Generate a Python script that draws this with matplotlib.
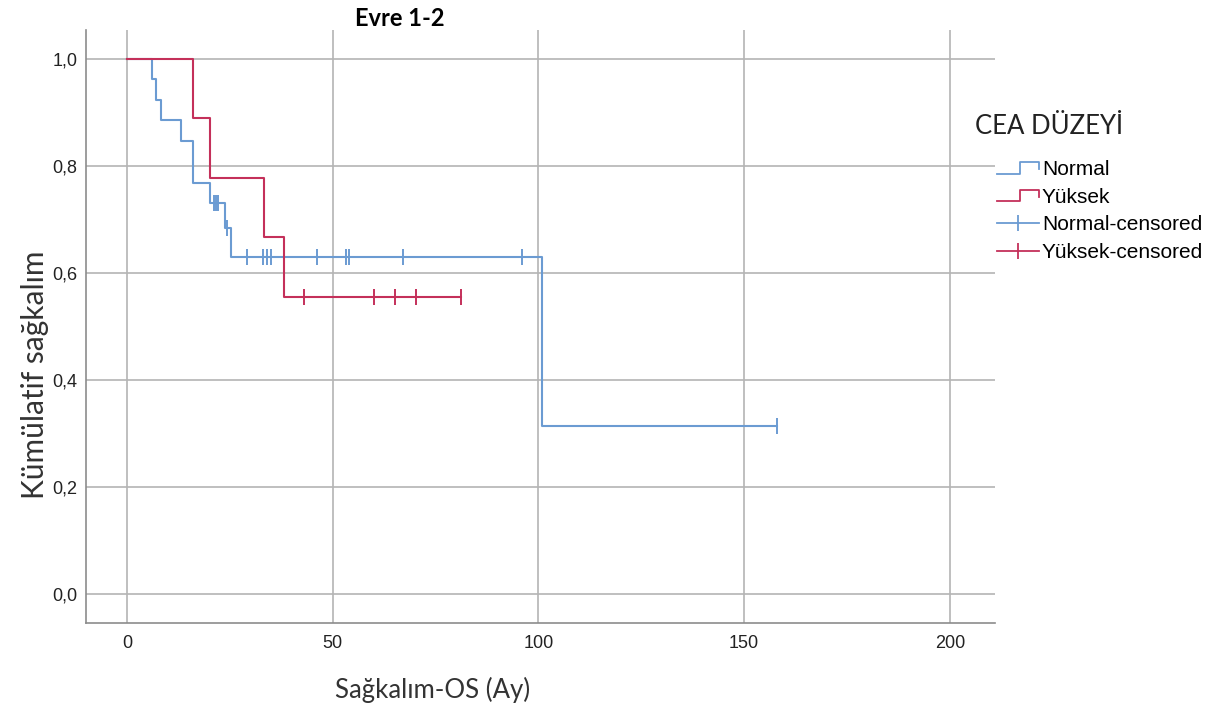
import numpy as np
import matplotlib as mpl
mpl.use('Agg')
import matplotlib.pyplot as plt
from matplotlib import font_manager
from matplotlib.legend_handler import HandlerBase
from matplotlib.lines import Line2D

# Kaplan-Meier basamaklari (ay, kumulatif sagkalim)
normal_zaman = [0, 6.1, 7.0, 8.2, 13.1, 16.1, 20.2, 23.8, 25.2, 100.9, 158.0]
normal_sag = [1.0, 0.962, 0.923, 0.885, 0.846, 0.769, 0.731, 0.684, 0.630, 0.315, 0.315]
normal_sansur = [21.0, 21.6, 22.2, 24.3, 29.1, 33.0, 33.9, 35.0, 46.1, 53.1, 53.9, 67.1, 96.1, 158.0]

yuksek_zaman = [0, 16.1, 20.2, 33.3, 38.1, 81.2]
yuksek_sag = [1.0, 0.889, 0.778, 0.667, 0.556, 0.556]
yuksek_sansur = [43.1, 60.0, 65.1, 70.2, 81.2]

renkler = ['#6b9bd2', '#c4305a']

x_ticks = [0, 50, 100, 150, 200]
y_ticks = [0.0, 0.2, 0.4, 0.6, 0.8, 1.0]
y_etiket = ['0,0', '0,2', '0,4', '0,6', '0,8', '1,0']

mevcut = {f.name for f in font_manager.fontManager.ttflist}
if 'Liberation Sans Narrow' in mevcut:
    DAR = ['Liberation Sans Narrow', 'DejaVu Sans']
    DAR_BOY = 14
else:
    DAR = ['Liberation Sans', 'DejaVu Sans']
    DAR_BOY = 13
YAZI = ['Lato', 'DejaVu Sans']

W, H = 1216, 716


def seviye(zaman, sag, t):
    # sansurlu gozlemin bulundugu basamak duzeyi
    i = np.searchsorted(zaman, t, side='right') - 1
    return sag[i]


class AdimSimgesi(HandlerBase):
    def create_artists(self, legend, orig_handle, xdescent, ydescent,
                       width, height, fontsize, trans):
        x0 = -xdescent
        y0 = -ydescent
        xm = x0 + width * 0.55
        x1 = x0 + width
        xs = [x0, xm, xm, x1, x1]
        ys = [y0 + height * 0.1, y0 + height * 0.1, y0 + height * 0.9,
              y0 + height * 0.9, y0 + height * 0.4]
        ln = Line2D(xs, ys, color=orig_handle.get_color(), lw=1.3, transform=trans)
        return [ln]


fig = plt.figure(figsize=(W / 100, H / 100), dpi=100)
ax = fig.add_axes([86 / W, 1 - 623 / H, (995 - 86) / W, (623 - 30) / H])

ax.set_xlim(-10.0, 211.0)
ax.set_ylim(-0.054, 1.054)
ax.set_xticks(x_ticks)
ax.set_yticks(y_ticks)
ax.set_yticklabels(y_etiket)
ax.grid(True, color='#b4b4b4', lw=1.2)
ax.set_axisbelow(True)
ax.tick_params(length=0, labelsize=DAR_BOY, labelcolor='#222222')
ax.tick_params(axis='y', pad=6)
ax.tick_params(axis='x', pad=9)
for lab in ax.get_xticklabels() + ax.get_yticklabels():
    lab.set_family(DAR)
for s in ['top', 'right']:
    ax.spines[s].set_visible(False)
for s in ['left', 'bottom']:
    ax.spines[s].set_color('#8c8c8c')
    ax.spines[s].set_linewidth(1.2)

egriler = []
for ad, renk, zaman, sag in [('Normal', renkler[0], normal_zaman, normal_sag),
                             ('Yüksek', renkler[1], yuksek_zaman, yuksek_sag)]:
    ln, = ax.step(zaman, sag, where='post', color=renk, lw=1.5, label=ad)
    egriler.append(ln)

for ad, renk, zaman, sag, ss in [('Normal', renkler[0], normal_zaman, normal_sag, normal_sansur),
                                 ('Yüksek', renkler[1], yuksek_zaman, yuksek_sag, yuksek_sansur)]:
    yy = [seviye(zaman, sag, t) for t in ss]
    ax.plot(ss, yy, ls='none', marker='|', ms=11, mew=1.4, color=renk,
            label=ad + '-censored')

fig.text(400 / W, 1 - 19 / H, 'Evre 1-2', ha='center', va='center',
         fontsize=17, fontweight='bold', family=YAZI, color='black')
fig.text(35 / W, 1 - 375 / H, 'Kümülatif sağkalım', rotation=90, ha='center',
         va='center', fontsize=21.5, family=YAZI, color='#333333')
fig.text(433 / W, 1 - 690 / H, 'Sağkalım-OS (Ay)', ha='center', va='center',
         fontsize=18.5, family=YAZI, color='#333333')
fig.text(975 / W, 1 - 126 / H, 'CEA DÜZEYİ', ha='left', va='center',
         fontsize=18.5, family=YAZI, color='#222222')

leg_handles = egriler + [Line2D([], [], color=renkler[0], lw=1.3, marker='|', ms=11, mew=1.3),
                         Line2D([], [], color=renkler[1], lw=1.3, marker='|', ms=11, mew=1.3)]
leg_labels = ['Normal', 'Yüksek', 'Normal-censored', 'Yüksek-censored']
fig.legend(leg_handles, leg_labels, loc='upper left',
           bbox_to_anchor=(997 / W, 1 - 160 / H), frameon=False,
           borderpad=0, borderaxespad=0, handlelength=2.0, handletextpad=0.15,
           labelspacing=0.42, prop={'family': DAR, 'size': 15},
           handler_map={egriler[0]: AdimSimgesi(), egriler[1]: AdimSimgesi()})

fig.savefig('out.png', dpi=100)
